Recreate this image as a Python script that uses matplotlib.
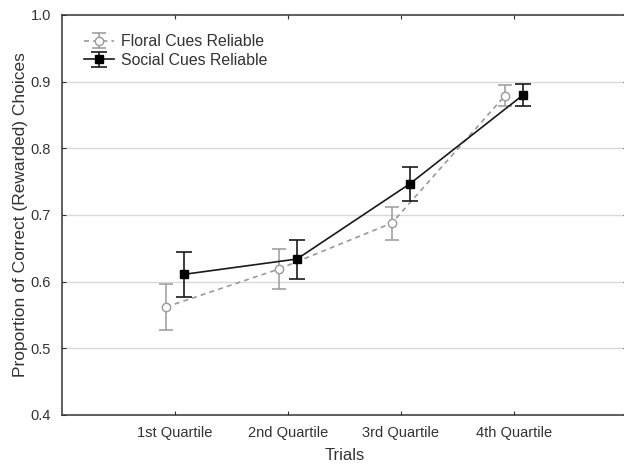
import matplotlib
matplotlib.use("Agg")
import matplotlib.pyplot as plt
import numpy as np

plt.rcParams['font.family'] = ['Liberation Sans', 'DejaVu Sans']

categories = ["1st Quartile", "2nd Quartile", "3rd Quartile", "4th Quartile"]
floral_mean = [0.562, 0.619, 0.688, 0.879]
floral_lo = [0.527, 0.589, 0.663, 0.863]
floral_hi = [0.597, 0.649, 0.712, 0.895]
social_mean = [0.611, 0.634, 0.747, 0.880]
social_lo = [0.577, 0.604, 0.721, 0.864]
social_hi = [0.645, 0.662, 0.772, 0.896]

fig = plt.figure(figsize=(6.24, 4.67), dpi=100)
ax = fig.add_axes([62/624, (467-415)/467, (627-62)/624, (415-15)/467])

x = np.arange(len(categories))
off = 0.08
fm = np.array(floral_mean); sm = np.array(social_mean)
ferr = [fm - np.array(floral_lo), np.array(floral_hi) - fm]
serr = [sm - np.array(social_lo), np.array(social_hi) - sm]

for yv in [0.5, 0.6, 0.7, 0.8, 0.9]:
    ax.axhline(yv, color='#d9d9d9', lw=1, zorder=0)

ax.errorbar(x - off, fm, yerr=ferr, color='#9a9a9a', ls=(0, (3, 2.5)), lw=1.2,
            marker='o', mfc='white', mec='#9a9a9a', ms=6, capsize=5, elinewidth=1.1,
            capthick=1.1, label='Floral Cues Reliable', zorder=3)
ax.errorbar(x + off, sm, yerr=serr, color='#1a1a1a', ls='-', lw=1.2,
            marker='s', mfc='black', mec='black', ms=6, capsize=5.5, elinewidth=1.2,
            capthick=1.2, label='Social Cues Reliable', zorder=4)

ax.set_xlim(-1, 4)
ax.set_ylim(0.4, 1.0)
ax.set_xticks(x)
ax.set_xticklabels(categories)
ax.set_yticks([0.4, 0.5, 0.6, 0.7, 0.8, 0.9, 1.0])
ax.set_yticklabels(['0.4', '0.5', '0.6', '0.7', '0.8', '0.9', '1.0'])
ax.tick_params(direction='in', top=True, right=True, length=3, labelsize=10.5,
               colors='#333333', pad=8)
ax.tick_params(axis='x', pad=8)
for s in ax.spines.values():
    s.set_color('#333333'); s.set_linewidth(1.1)
ax.set_xlabel('Trials', fontsize=12, color='#333333', labelpad=6)
ax.set_ylabel('Proportion of Correct (Rewarded) Choices', fontsize=12.5, color='#333333', labelpad=2)

leg = ax.legend(loc='upper left', bbox_to_anchor=(0.02, 0.98), frameon=False,
                fontsize=11.4, handlelength=1.9, handletextpad=0.4, labelspacing=0.25,
                borderaxespad=0.3)
for t in leg.get_texts():
    t.set_color('#333333')

fig.savefig('out.png', dpi=100)
